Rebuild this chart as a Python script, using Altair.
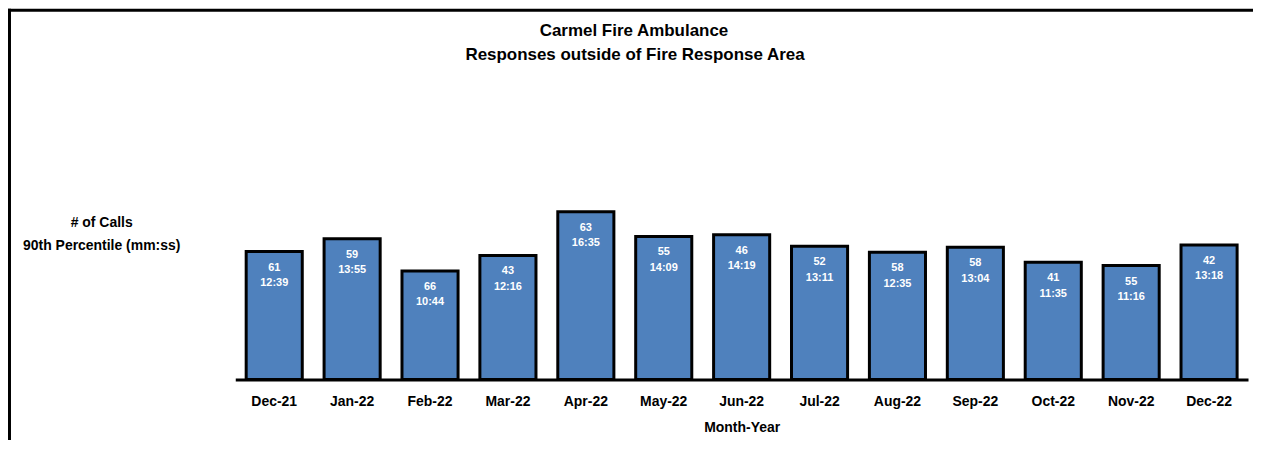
import altair as alt
import pandas as pd

months = ["Dec-21", "Jan-22", "Feb-22", "Mar-22", "Apr-22", "May-22", "Jun-22",
          "Jul-22", "Aug-22", "Sep-22", "Oct-22", "Nov-22", "Dec-22"]
calls = [61, 59, 66, 43, 63, 55, 46, 52, 58, 58, 41, 55, 42]
p90 = ["12:39", "13:55", "10:44", "12:16", "16:35", "14:09", "14:19",
       "13:11", "12:35", "13:04", "11:35", "11:16", "13:18"]

title_lines = ["Carmel Fire Ambulance", "Responses outside of Fire Response Area"]
left_lines = ["# of Calls", "90th Percentile (mm:ss)"]


def to_sec(s):
    m, sec = s.split(":")
    return int(m) * 60 + int(sec)


df = pd.DataFrame({
    "month": months,
    "calls": [str(c) for c in calls],
    "p90": p90,
    "sec": [to_sec(s) for s in p90],
})

FONT = "Liberation Sans"

x_enc = alt.X("month:N", sort=months,
              scale=alt.Scale(paddingInner=0.28, paddingOuter=0.14),
              axis=alt.Axis(title="Month-Year", labelAngle=0, ticks=False, tickSize=0,
                            domainColor="black", domainWidth=3, labelColor="black",
                            labelFont=FONT, labelFontSize=14, labelFontWeight="bold",
                            labelBaseline="alphabetic", labelPadding=26,
                            titleFont=FONT, titleFontSize=14, titleFontWeight="bold",
                            titleColor="black", titleBaseline="alphabetic", titleY=52,
                            grid=False, zindex=1))
y_enc = alt.Y("sec:Q", scale=alt.Scale(domain=[0, 1100]), axis=None)

base = alt.Chart(df)

bars = base.mark_bar(fill="#4F81BD", stroke="black", strokeWidth=3).encode(x=x_enc, y=y_enc)

lbl_calls = base.mark_text(color="white", font=FONT, fontSize=11, fontWeight="bold",
                           baseline="middle", dy=16).encode(x=x_enc, y=y_enc, text="calls:N")
lbl_time = base.mark_text(color="white", font=FONT, fontSize=11, fontWeight="bold",
                          baseline="middle", dy=31.5).encode(x=x_enc, y=y_enc, text="p90:N")


def deco_text(t, xv, yv, size):
    return alt.Chart(pd.DataFrame({"t": [t]})).mark_text(
        font=FONT, fontSize=size, fontWeight="bold", color="black",
        align="center", baseline="middle"
    ).encode(x=alt.value(xv), y=alt.value(yv), text="t:N")


t1 = deco_text(title_lines[0], 400, -163.5, 17)
t2 = deco_text(title_lines[1], 401, -139.3, 17)
l1 = deco_text(left_lines[0], -134, 29.5, 14)
l2 = deco_text(left_lines[1], -134, 52, 14)

frame_df = pd.DataFrame({"k": [0]})
top_line = alt.Chart(frame_df).mark_rule(color="black", strokeWidth=3).encode(
    x=alt.value(-228), x2=alt.value(1040), y=alt.value(-184.5))
left_line = alt.Chart(frame_df).mark_rule(color="black", strokeWidth=3).encode(
    x=alt.value(-226.5), y=alt.value(-186), y2=alt.value(270))

chart = alt.layer(bars, lbl_calls, lbl_time, t1, t2, l1, l2, top_line, left_line).properties(
    width=1016, height=186,
    padding={"left": 228, "top": 186, "right": 5, "bottom": 60},
    autosize=alt.AutoSizeParams(type="none"),
).configure(font=FONT, background="white").configure_view(strokeWidth=0, stroke="transparent")

chart.save("out.html", embed_options={"renderer": "svg", "actions": False})
